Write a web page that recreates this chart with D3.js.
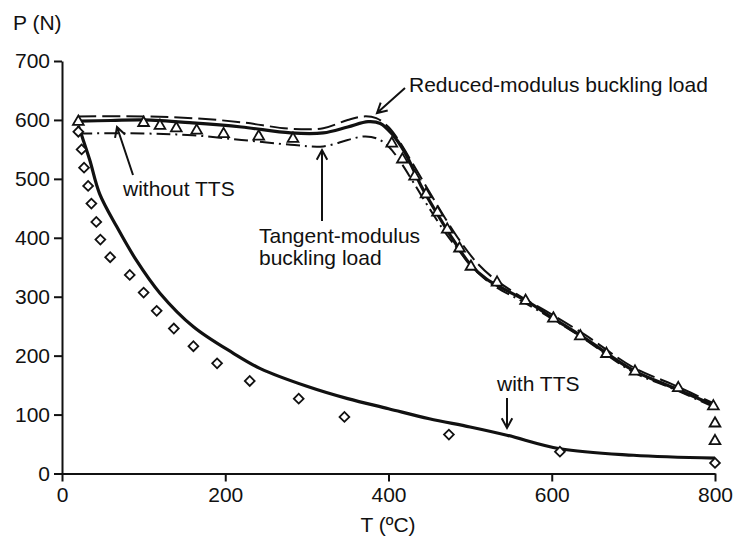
<!DOCTYPE html>
<html><head><meta charset="utf-8">
<script src="https://cdn.jsdelivr.net/npm/d3@7"></script>
<style>
html,body{margin:0;padding:0;background:#fff;}
svg text{font-family:"Liberation Sans",Arial,Helvetica,sans-serif;fill:#111;}
</style></head>
<body><svg id="c" width="733" height="543"></svg>
<script>
// ---- data ----
const xTicks = [0, 200, 400, 600, 800];
const yTicks = [0, 100, 200, 300, 400, 500, 600, 700];

// test data without TTS (triangles)
const triT = [20, 100, 120, 140, 165, 198, 241, 283, 404, 417, 432, 446, 460, 472, 487, 501, 533, 568, 602, 635, 667, 702, 755, 798, 800, 800];
const triP = [597, 595, 590, 586, 582, 576, 572, 568, 560, 533, 504, 474, 443, 414, 382, 351, 324, 293, 263, 233, 203, 173, 145, 114, 85, 55];

// test data with TTS (diamonds)
const diaT = [20, 24, 27, 32, 36, 42, 47, 59, 83, 100, 116, 137, 161, 190, 230, 290, 346, 474, 610, 800];
const diaP = [580, 550, 519, 488, 458, 427, 397, 367, 337, 307, 276, 246, 216, 187, 157, 127, 96, 66, 37, 18];

// theory without TTS (solid)
const noTtsT = [20, 60, 100, 160, 220, 280, 320, 350, 375, 390, 405, 420, 440, 460, 480, 500, 520, 540, 570, 600, 640, 700, 750, 800];
const noTtsP = [598, 599, 600, 595, 588, 578, 578, 588, 597, 594, 575, 545, 488, 440, 395, 355, 330, 314, 292, 265, 230, 175, 145, 115];

// reduced-modulus buckling load (dashed)
const redT = [20, 100, 160, 220, 280, 320, 350, 370, 385, 400, 415, 430, 450, 470, 490, 510, 530, 560, 600, 640, 700, 750, 800];
const redP = [606, 606, 603, 596, 585, 586, 600, 606, 603, 588, 560, 525, 478, 432, 390, 355, 330, 302, 270, 236, 180, 150, 118];

// tangent-modulus buckling load (dash-dot)
const tanT = [20, 100, 160, 220, 280, 320, 350, 370, 385, 400, 415, 430, 450, 470, 490, 510, 530, 560, 600, 640, 700, 750, 800];
const tanP = [577, 577, 574, 566, 558, 555, 566, 572, 569, 555, 528, 495, 450, 408, 372, 340, 318, 295, 263, 228, 172, 143, 112];

// theory with TTS (solid)
const ttsT = [20, 25, 34, 46, 67, 91, 120, 161, 210, 243, 300, 350, 400, 450, 500, 545, 610, 700, 800];
const ttsP = [590, 570, 532, 475, 419, 362, 306, 249, 204, 178, 148, 127, 110, 93, 79, 65, 42, 31, 26];

// ---- chart ----
const svg = d3.select("#c");
const x = d3.scaleLinear().domain([0, 800]).range([62, 715]);
const y = d3.scaleLinear().domain([0, 700]).range([473.5, 61]);
const zip = (a, b) => a.map((v, i) => [v, b[i]]);
const line = d3.line().x(d => x(d[0])).y(d => y(d[1])).curve(d3.curveCatmullRom.alpha(0.5));

// axes
const gx = svg.append("g").attr("transform", `translate(0,${y(0)})`)
  .call(d3.axisBottom(x).tickValues(xTicks).tickSize(8).tickSizeOuter(0).tickPadding(6));
const gy = svg.append("g").attr("transform", `translate(${x(0)},0)`)
  .call(d3.axisLeft(y).tickValues(yTicks).tickSize(8).tickSizeOuter(0).tickPadding(4));
[gx, gy].forEach(g => {
  g.select(".domain").attr("stroke", "#111").attr("stroke-width", 2);
  g.selectAll(".tick line").attr("stroke", "#111").attr("stroke-width", 2);
  g.selectAll(".tick text").attr("font-size", 21).attr("fill", "#111")
    .style("font-family", '"Liberation Sans",Arial,sans-serif');
});

svg.append("text").attr("x", 13).attr("y", 30).attr("font-size", 21).text("P (N)");
svg.append("text").attr("x", 388).attr("y", 532).attr("font-size", 21).attr("text-anchor", "middle").text("T (ºC)");

// curves
const curves = [
  {t: redT, p: redP, dash: "18,6", w: 2},
  {t: tanT, p: tanP, dash: "14,5,2,5", w: 2},
  {t: noTtsT, p: noTtsP, dash: null, w: 3.2},
  {t: ttsT, p: ttsP, dash: null, w: 3.2}
];
curves.forEach(c => {
  svg.append("path").attr("d", line(zip(c.t, c.p)))
    .attr("fill", "none").attr("stroke", "#111").attr("stroke-width", c.w)
    .attr("stroke-dasharray", c.dash);
});

// markers
svg.append("g").selectAll("path").data(zip(triT, triP)).join("path")
  .attr("transform", d => `translate(${x(d[0])},${y(d[1])})`)
  .attr("d", d3.symbol(d3.symbolTriangle, 50))
  .attr("fill", "#fff").attr("stroke", "#111").attr("stroke-width", 1.8);
svg.append("g").selectAll("path").data(zip(diaT, diaP)).join("path")
  .attr("transform", d => `translate(${x(d[0])},${y(d[1])}) rotate(45)`)
  .attr("d", d3.symbol(d3.symbolSquare, 48))
  .attr("fill", "#fff").attr("stroke", "#111").attr("stroke-width", 1.8);

// annotations
function arrow(x1, y1, x2, y2) {
  const a = Math.atan2(y2 - y1, x2 - x1), L = 11, s = 0.5;
  const p1 = [x2 - L * Math.cos(a - s), y2 - L * Math.sin(a - s)];
  const p2 = [x2 - L * Math.cos(a + s), y2 - L * Math.sin(a + s)];
  svg.append("path")
    .attr("d", `M${x1},${y1}L${x2},${y2}M${p1}L${x2},${y2}L${p2}`)
    .attr("fill", "none").attr("stroke", "#111").attr("stroke-width", 2);
}
arrow(405, 88, 377, 113);
arrow(322, 221, 322, 150);
arrow(133, 175, 117, 127);
arrow(507, 398, 507, 428);

const ann = [
  {x: 409, y: 92, s: "Reduced-modulus buckling load"},
  {x: 259, y: 243, s: "Tangent-modulus"},
  {x: 259, y: 265, s: "buckling load"},
  {x: 123, y: 196, s: "without TTS"},
  {x: 497, y: 391, s: "with TTS"}
];
svg.append("g").selectAll("text").data(ann).join("text")
  .attr("x", d => d.x).attr("y", d => d.y).attr("font-size", 21).text(d => d.s);
</script></body></html>
